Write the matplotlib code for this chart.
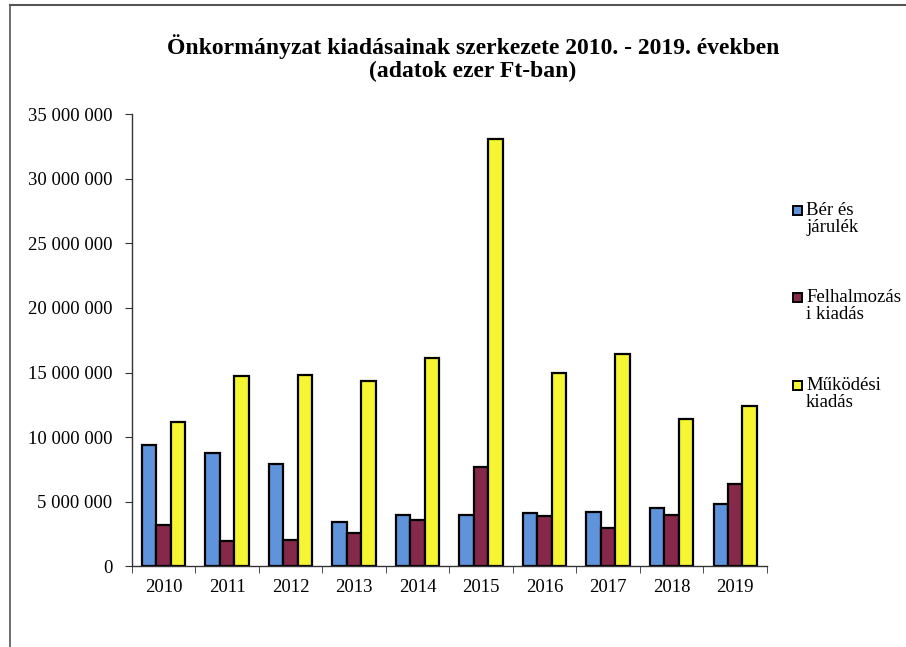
import matplotlib
matplotlib.use("Agg")
import matplotlib.pyplot as plt
import numpy as np
from matplotlib.patches import Rectangle
from matplotlib.lines import Line2D
from matplotlib.ticker import FuncFormatter

plt.rcParams['font.family'] = ['Liberation Serif', 'DejaVu Serif']

years = ["2010", "2011", "2012", "2013", "2014", "2015", "2016", "2017", "2018", "2019"]
# adatok ezer Ft-ban
ber = [9400000, 8800000, 7900000, 3400000, 4000000, 4000000, 4100000, 4200000, 4500000, 4800000]
felhalmozas = [3200000, 1950000, 2050000, 2600000, 3600000, 7700000, 3900000, 3000000, 4000000, 6400000]
mukodesi = [11200000, 14750000, 14800000, 14350000, 16100000, 33100000, 15000000, 16400000, 11400000, 12400000]

labels = ["Bér és\njárulék", "Felhalmozás\ni kiadás", "Működési\nkiadás"]
colors = ["#5f93dc", "#86284a", "#f6f531"]

fig = plt.figure(figsize=(9.06, 6.47), dpi=100)
ax = fig.add_axes([0.1454, 0.1245, 0.7012, 0.6993])

x = np.arange(len(years))
w = 0.228
for i, vals in enumerate([ber, felhalmozas, mukodesi]):
    ax.bar(x + (i - 1) * w, vals, w, color=colors[i], edgecolor="black", linewidth=1.6)

ax.set_xlim(-0.5, len(years) - 0.5)
ax.set_ylim(0, 35000000)
ax.set_yticks(np.arange(0, 35000001, 5000000))
ax.yaxis.set_major_formatter(FuncFormatter(lambda v, p: f"{int(v):,}".replace(",", " ")))
ax.set_xticks(x)
ax.set_xticklabels(years)
ax.set_xticks(np.arange(-0.5, len(years), 1), minor=True)
ax.tick_params(axis="x", which="major", length=0, pad=9, labelsize=13.5)
ax.tick_params(axis="x", which="minor", length=5, direction="out", color="#333333")
ax.tick_params(axis="y", length=5, direction="out", pad=9, labelsize=13.5, color="#333333")
for s in ["top", "right"]:
    ax.spines[s].set_visible(False)
for s in ["left", "bottom"]:
    ax.spines[s].set_color("#333333")
    ax.spines[s].set_linewidth(1.0)

fig.text(0.522, 0.9096, "Önkormányzat kiadásainak szerkezete 2010. - 2019. években\n(adatok ezer Ft-ban)",
         ha="center", va="center", fontsize=17, fontweight="bold", linespacing=1.12)

# jelmagyarázat
ly = [1 - 210 / 647, 1 - 297 / 647, 1 - 385 / 647]
for i in range(3):
    fig.patches.append(Rectangle((793 / 906, ly[i] - 0.008), 9 / 906, 9 / 647, transform=fig.transFigure,
                                 facecolor=colors[i], edgecolor="black", linewidth=1.4))
    fig.text(806 / 906, ly[i] + 0.013, labels[i], ha="left", va="top", fontsize=13.5, linespacing=1.05)

# keret
fig.add_artist(Line2D([10 / 906, 1], [1 - 5 / 647, 1 - 5 / 647], transform=fig.transFigure, color="#555555", lw=1.5))
fig.add_artist(Line2D([10 / 906, 10 / 906], [0, 1 - 5 / 647], transform=fig.transFigure, color="#555555", lw=1.2))

fig.savefig("out.png", dpi=100)
